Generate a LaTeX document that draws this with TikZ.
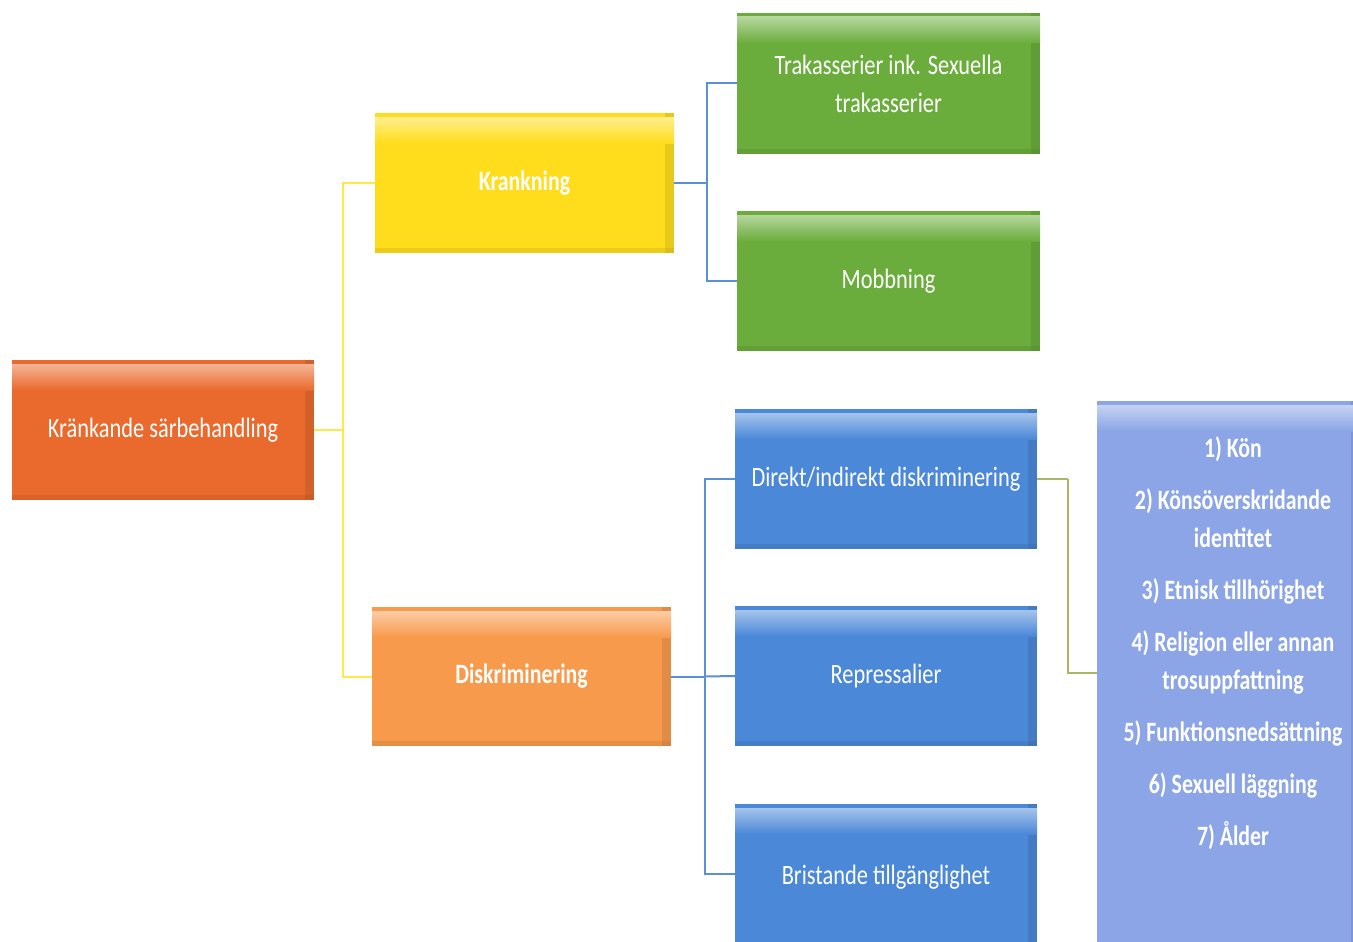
\documentclass[tikz,border=0pt]{standalone}
\usepackage{fontspec}
\newfontfamily\boxfont[FakeStretch=0.8]{Carlito}
\newfontfamily\rbfont[FakeStretch=0.78]{Carlito}
\definecolor{cRed}{HTML}{EA6A2E}
\definecolor{cYel}{HTML}{FFDD1C}
\definecolor{cOra}{HTML}{F89A4C}
\definecolor{cGre}{HTML}{6BAD3C}
\definecolor{cBlu}{HTML}{4B88D8}
\definecolor{cLav}{HTML}{8BA5E6}
\definecolor{lYel}{HTML}{FFE84A}
\definecolor{lBlu}{HTML}{5A90D8}
\definecolor{lOli}{HTML}{A9B664}
\tikzset{
  box/.style={rectangle, draw=none, fill=#1, text=white,
    font=\boxfont\fontsize{28}{38}\selectfont, align=center, inner sep=0pt,
    path picture={
      \fill[#1!70!black, opacity=0.3]
        ([xshift=-9pt]path picture bounding box.north east) rectangle (path picture bounding box.south east);
      \fill[#1!75!black, opacity=0.3]
        ([yshift=5pt]path picture bounding box.south west) rectangle (path picture bounding box.south east);
      \shade[top color=#1!50!white, bottom color=#1]
        ([yshift=-4pt]path picture bounding box.north west) rectangle ([yshift=-30pt]path picture bounding box.north east);
    }},
  conn/.style={line width=2pt, draw=#1},
  txt/.style={text=white, font=\rbfont\bfseries\fontsize{28}{38}\selectfont, align=center, inner sep=0pt}
}
\begin{document}
\begin{tikzpicture}[x=1pt,y=-1pt]
\useasboundingbox (0,0) rectangle (1353,942);
% boxes
\node[box=cRed, minimum width=302pt, minimum height=140pt] (ks) at (163,430) {Kränkande särbehandling};
\node[box=cYel, minimum width=299pt, minimum height=140pt] (kr) at (524.5,183) {\rbfont\bfseries Krankning};
\node[box=cOra, minimum width=299pt, minimum height=139pt] (di) at (521.5,676.5) {\rbfont\bfseries Diskriminering};
\node[box=cGre, minimum width=303pt, minimum height=141pt] (tr) at (888.5,83.5) {Trakasserier ink. Sexuella\\trakasserier};
\node[box=cGre, minimum width=303pt, minimum height=140pt] (mo) at (888.5,281) {Mobbning};
\node[box=cBlu, minimum width=302pt, minimum height=140pt] (dd) at (886,479) {Direkt/indirekt diskriminering};
\node[box=cBlu, minimum width=302pt, minimum height=140pt] (re) at (886,676) {Repressalier};
\node[box=cBlu, minimum width=302pt, minimum height=146pt] (br) at (886,877) {Bristande tillgänglighet};
\node[box=cLav, minimum width=263pt, minimum height=549pt] (rb) at (1228.5,675.5) {};
\node[txt, anchor=north] (rbt) at (1233,437) {1) Kön\\[14pt]2) Könsöverskridande\\identitet\\[14pt]3) Etnisk tillhörighet\\[14pt]4) Religion eller annan\\trosuppfattning\\[14pt]5) Funktionsnedsättning\\[14pt]6) Sexuell läggning\\[14pt]7) Ålder};
% connectors
\coordinate (yj) at (343,430);
\coordinate (bj1) at (707,183);
\coordinate (bj2) at (705,676.5);
\coordinate (gj) at (1068,479);
\draw[conn=lYel] (ks.east) -- (yj);
\draw[conn=lYel] (kr.west) -| (yj);
\draw[conn=lYel] (di.west) -| (yj);
\draw[conn=lBlu] (kr.east) -- (bj1);
\draw[conn=lBlu] (tr.west) -| (bj1);
\draw[conn=lBlu] (mo.west) -| (bj1);
\draw[conn=lBlu] (di.east) -- (bj2);
\draw[conn=lBlu] (dd.west) -| (bj2);
\draw[conn=lBlu] (re.west) -- (bj2);
\draw[conn=lBlu] (br.west |- 0,874) -| (bj2);
\draw[conn=lOli] (dd.east) -- (gj);
\draw[conn=lOli] (rb.west |- 0,673) -| (gj);
\end{tikzpicture}
\end{document}
